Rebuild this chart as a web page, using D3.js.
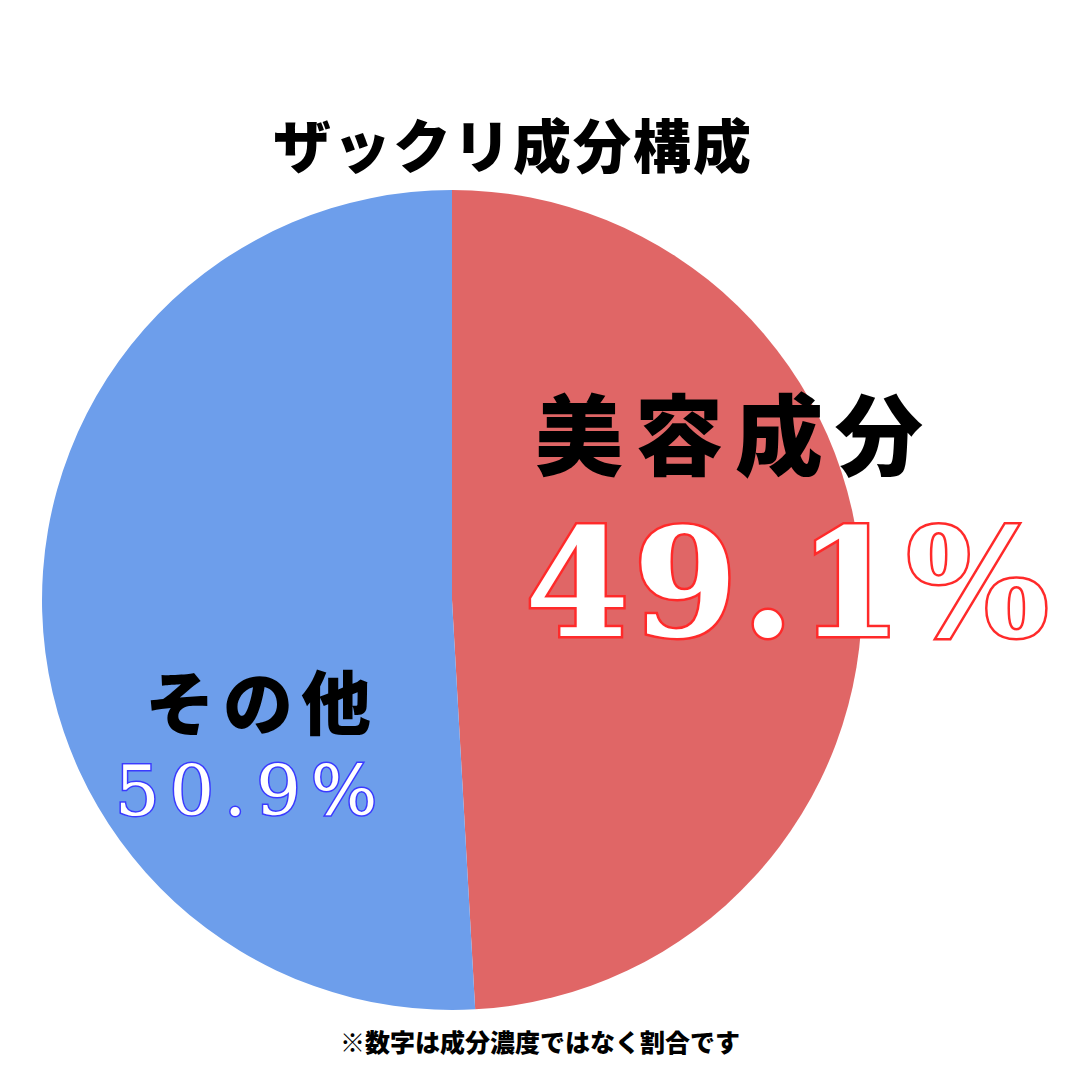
<!DOCTYPE html>
<html><head><meta charset="utf-8">
<script src="https://cdn.jsdelivr.net/npm/d3@7"></script>
<style>body{margin:0;background:#fff}</style>
</head><body>
<svg id="chart" width="1080" height="1080"></svg>
<script>
// data
var labels = ["美容成分", "その他"];
var values = [49.1, 50.9];
var colors = ["#e06666", "#6d9eeb"];
var title = "ザックリ成分構成";
var note = "※数字は成分濃度ではなく割合です";

var svg = d3.select("#chart");
var jp = "'Noto Sans CJK JP', sans-serif";

svg.append("text").attr("x", 513).attr("y", 168).attr("text-anchor", "middle")
  .attr("font-family", jp).attr("font-weight", 900).attr("font-size", 58)
  .attr("letter-spacing", 2).text(title);

var pie = d3.pie().sort(null).value(d => d);
var arc = d3.arc().innerRadius(0).outerRadius(410);
var g = svg.append("g").attr("transform", "translate(452,600)");
g.selectAll("path").data(pie(values)).enter().append("path")
  .attr("d", arc).attr("fill", (d, i) => colors[i]);

// big labels
svg.append("text").attr("x", 535).attr("y", 468)
  .attr("font-family", jp).attr("font-weight", 900).attr("font-size", 88)
  .attr("letter-spacing", 12).text(labels[0]);
svg.append("text").attr("x", 525).attr("y", 636)
  .attr("font-family", "'DejaVu Serif', serif").attr("font-weight", "bold").attr("font-size", 150)
  .attr("letter-spacing", 4)
  .attr("fill", "#fff").attr("stroke", "#ff2a2a").attr("stroke-width", 5).attr("paint-order", "stroke")
  .text(values[0] + "%");

svg.append("text").attr("x", 145).attr("y", 730)
  .attr("font-family", jp).attr("font-weight", 900).attr("font-size", 70)
  .attr("letter-spacing", 8).text(labels[1]);
svg.append("text").attr("x", 115).attr("y", 815)
  .attr("font-family", "'DejaVu Serif', serif").attr("font-size", 70)
  .attr("letter-spacing", 10)
  .attr("fill", "#fff").attr("stroke", "#3a3aff").attr("stroke-width", 3).attr("paint-order", "stroke")
  .text(values[1] + "%");

svg.append("text").attr("x", 540).attr("y", 1052).attr("text-anchor", "middle")
  .attr("font-family", jp).attr("font-weight", 900).attr("font-size", 25)
  .text(note);
</script>
</body></html>
